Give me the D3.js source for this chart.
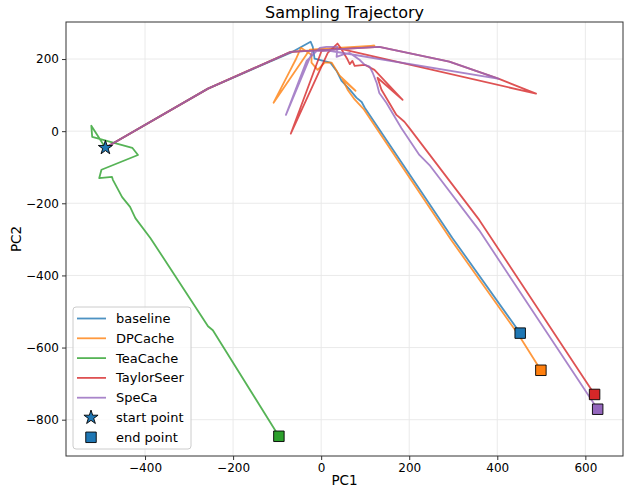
<!DOCTYPE html>
<html>
<head>
<meta charset="utf-8">
<script src="https://cdn.jsdelivr.net/npm/d3@7"></script>
<style>
  body { margin: 0; background: #fff; }
  text { font-family: "DejaVu Sans", sans-serif; fill: #000; }
</style>
</head>
<body>
<div id="chart"></div>
<script>
// Trajectory data (PC1 / PC2)
const methods = ['baseline', 'DPCache', 'TeaCache', 'TaylorSeer', 'SpeCa'];
const colors = ['#1f77b4', '#ff7f0e', '#2ca02c', '#d62728', '#9467bd'];

const baselineX = [-490, -257, -65, -24, -19, -15, 21, 35, 46, 65, 80, 92, 99, 298, 452];
const baselineY = [-46, 118, 220, 248, 234, 201, 190, 167, 140, 115, 93, 81, 65, -296, -560];

const dpcacheX = [-490, -257, -69, 121, -26, -108, -71, -58, -46, -22, -22, -8, 8, 24, 42, 78, 49, 60, 76, 96, 295, 449, 499];
const dpcacheY = [-46, 118, 220, 237, 226, 79, 167, 198, 231, 212, 190, 170, 190, 190, 154, 112, 143, 115, 88, 62, -301, -566, -663];

const teacacheX = [-490, -522, -520, -429, -416, -499, -504, -475, -473, -452, -434, -422, -388, -382, -257, -246, -96];
const teacacheY = [-46, 15, -16, -46, -66, -107, -130, -127, -135, -183, -210, -241, -296, -307, -541, -552, -846];

const taylorX = [-490, -257, -69, 132, 291, 404, 488, 42, 1, -69, 15, 37, 44, 58, 65, 71, 76, 99, 121, 185, 128, 137, 171, 189, 200, 359, 621];
const taylorY = [-46, 118, 220, 234, 193, 145, 104, 229, 223, -7, 217, 243, 231, 203, 186, 195, 181, 184, 170, 87, 148, 115, 45, 26, 9, -246, -730];

const specaX = [-490, -257, -69, 132, 291, 404, 19, -19, -80, -33, -3, 12, 37, 35, 49, 65, 87, 99, 110, 117, 126, 132, 148, 182, 223, 246, 359, 628];
const specaY = [-46, 118, 220, 234, 193, 145, 223, 223, 45, 195, 231, 234, 234, 206, 212, 217, 198, 184, 179, 162, 134, 106, 79, 9, -66, -94, -275, -771];

const xTicks = [-400, -200, 0, 200, 400, 600];
const yTicks = [-800, -600, -400, -200, 0, 200];

const allX = [baselineX, dpcacheX, teacacheX, taylorX, specaX];
const allY = [baselineY, dpcacheY, teacacheY, taylorY, specaY];

const series = methods.map((m, i) => ({
    name: m,
    color: colors[i],
    points: allX[i].map((x, j) => [x, allY[i][j]])
}));

const W = 624, H = 490;
const margin = { top: 22, right: 1, bottom: 34, left: 66 };
const width = W - margin.left - margin.right;
const height = H - margin.top - margin.bottom;

const svg = d3.select('#chart')
    .append('svg')
    .attr('width', W)
    .attr('height', H);

const g = svg.append('g')
    .attr('transform', 'translate(' + margin.left + ',' + margin.top + ')');

// matplotlib-like 5% margins around the data
const xs = d3.merge(allX), ys = d3.merge(allY);
const xe = d3.extent(xs), ye = d3.extent(ys);
const xPad = (xe[1] - xe[0]) * 0.05, yPad = (ye[1] - ye[0]) * 0.05;

const x = d3.scaleLinear().domain([xe[0] - xPad, xe[1] + xPad]).range([0, width]);
const y = d3.scaleLinear().domain([ye[0] - yPad, ye[1] + yPad]).range([height, 0]);

// grid
g.selectAll('.gx').data(xTicks).join('line')
    .attr('class', 'gx')
    .attr('x1', d => x(d)).attr('x2', d => x(d))
    .attr('y1', 0).attr('y2', height)
    .attr('stroke', '#e8e8e8').attr('stroke-width', 0.9);
g.selectAll('.gy').data(yTicks).join('line')
    .attr('class', 'gy')
    .attr('y1', d => y(d)).attr('y2', d => y(d))
    .attr('x1', 0).attr('x2', width)
    .attr('stroke', '#e8e8e8').attr('stroke-width', 0.9);

// trajectories
const line = d3.line().x(d => x(d[0])).y(d => y(d[1]));
g.selectAll('.traj').data(series).join('path')
    .attr('class', 'traj')
    .attr('d', d => line(d.points))
    .attr('fill', 'none')
    .attr('stroke', d => d.color)
    .attr('stroke-opacity', 0.8)
    .attr('stroke-width', 1.8)
    .attr('stroke-linejoin', 'round');

// start point (shared by all runs)
const star = d3.symbol().type(d3.symbolStar).size(62);
g.append('path')
    .attr('d', star)
    .attr('transform', 'translate(' + x(baselineX[0]) + ',' + y(baselineY[0]) + ')')
    .attr('fill', colors[0])
    .attr('stroke', '#000')
    .attr('stroke-width', 0.9);

// end points
const square = d3.symbol().type(d3.symbolSquare).size(110);
g.selectAll('.endp').data(series).join('path')
    .attr('class', 'endp')
    .attr('d', square)
    .attr('transform', d => {
        const p = d.points[d.points.length - 1];
        return 'translate(' + x(p[0]) + ',' + y(p[1]) + ')';
    })
    .attr('fill', d => d.color)
    .attr('stroke', '#000')
    .attr('stroke-width', 0.9);

// axes
const fmt = d => String(d).replace('-', '\u2212');
const xAxis = g.append('g')
    .attr('transform', 'translate(0,' + height + ')')
    .call(d3.axisBottom(x).tickValues(xTicks).tickSize(4).tickPadding(3).tickFormat(fmt));
const yAxis = g.append('g')
    .call(d3.axisLeft(y).tickValues(yTicks).tickSize(4).tickPadding(3).tickFormat(fmt));
[xAxis, yAxis].forEach(a => {
    a.select('.domain').remove();
    a.selectAll('text').style('font-size', '12px').style('font-family', '"DejaVu Sans", sans-serif').attr('fill', '#000');
    a.selectAll('line').attr('stroke', '#333');
});

// frame
g.append('rect')
    .attr('width', width).attr('height', height)
    .attr('fill', 'none').attr('stroke', '#333').attr('stroke-width', 1);

// labels
svg.append('text')
    .attr('x', margin.left + width / 2).attr('y', 18)
    .attr('text-anchor', 'middle').style('font-size', '16px')
    .text('Sampling Trajectory');
svg.append('text')
    .attr('x', margin.left + width / 2).attr('y', 485)
    .attr('text-anchor', 'middle').style('font-size', '13.5px')
    .text('PC1');
svg.append('text')
    .attr('transform', 'translate(21,' + (margin.top + height / 2) + ') rotate(-90)')
    .attr('text-anchor', 'middle').style('font-size', '13.5px')
    .text('PC2');

// legend
const legend = svg.append('g').attr('transform', 'translate(73,307)');
legend.append('rect')
    .attr('width', 118).attr('height', 142)
    .attr('rx', 3)
    .attr('fill', '#fff').attr('fill-opacity', 0.8)
    .attr('stroke', '#cccccc');

const items = series.map(s => ({ label: s.name, kind: 'line', color: s.color }))
    .concat([{ label: 'start point', kind: 'star', color: colors[0] },
             { label: 'end point', kind: 'square', color: colors[0] }]);

const rows = legend.selectAll('.row').data(items).join('g')
    .attr('class', 'row')
    .attr('transform', (d, i) => 'translate(0,' + (11.5 + i * 19.8) + ')');

rows.filter(d => d.kind === 'line').append('line')
    .attr('x1', 4).attr('x2', 33)
    .attr('stroke', d => d.color).attr('stroke-opacity', 0.8).attr('stroke-width', 1.8);
rows.filter(d => d.kind === 'star').append('path')
    .attr('d', star).attr('transform', 'translate(18,0)')
    .attr('fill', d => d.color).attr('stroke', '#000').attr('stroke-width', 0.9);
rows.filter(d => d.kind === 'square').append('path')
    .attr('d', square).attr('transform', 'translate(18,0)')
    .attr('fill', d => d.color).attr('stroke', '#000').attr('stroke-width', 0.9);
rows.append('text')
    .attr('x', 43).attr('dy', '0.35em')
    .style('font-size', '13px')
    .text(d => d.label);
</script>
</body>
</html>
